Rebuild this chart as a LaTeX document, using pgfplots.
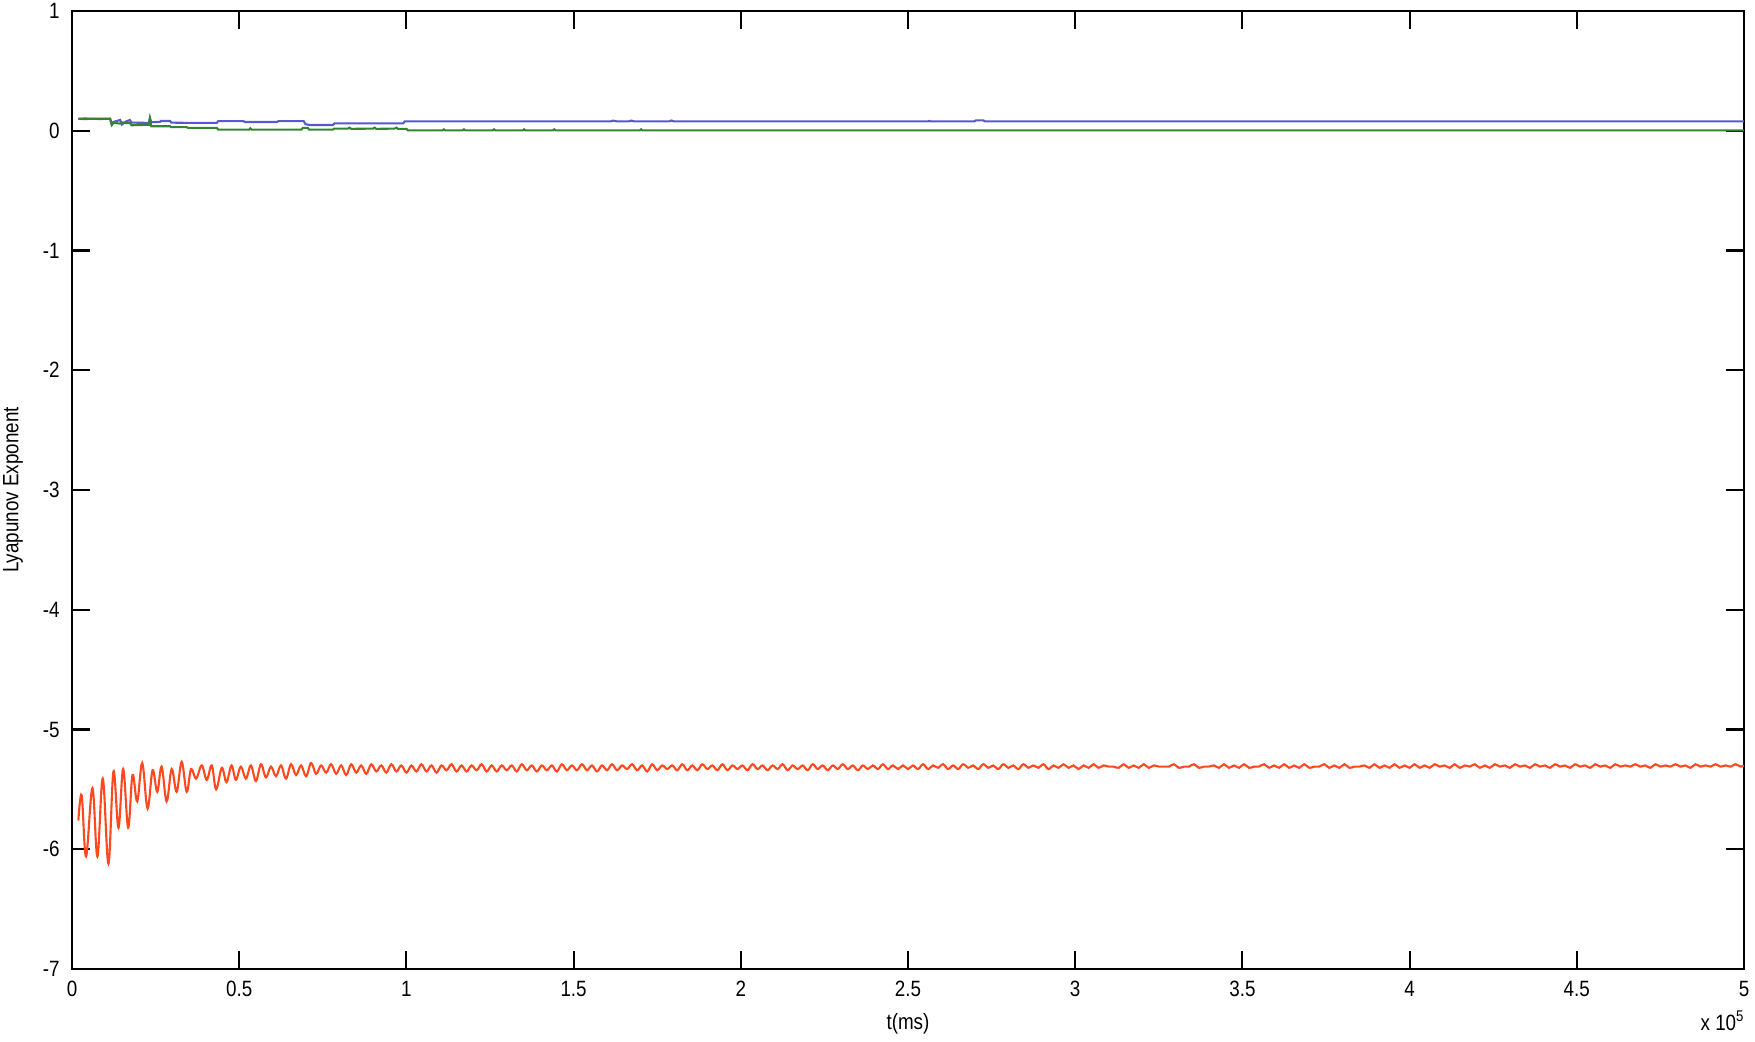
\documentclass[border=0pt]{standalone}
\usepackage{fontspec}
\setmainfont{Liberation Sans}[FakeStretch=0.85]
\usepackage{pgfplots}
\pgfplotsset{compat=1.18}

\definecolor{lyblue}{RGB}{88,88,208}
\definecolor{lygreen}{RGB}{52,132,52}
\definecolor{lyred}{RGB}{255,72,30}

\begin{document}
\begin{tikzpicture}
\begin{axis}[
    name=ax,
    at={(0,0)}, anchor=south west,
    scale only axis,
    width=16.72cm, height=9.58cm,
    xmin=0, xmax=500000,
    ymin=-7, ymax=1,
    scaled x ticks=false,
    xtick={0,50000,100000,150000,200000,250000,300000,350000,400000,450000,500000},
    xticklabels={0,0.5,1,1.5,2,2.5,3,3.5,4,4.5,5},
    ytick={-7,-6,-5,-4,-3,-2,-1,0,1},
    yticklabels={-7,-6,-5,-4,-3,-2,-1,0,1},
    tick align=inside,
    xtick pos=both, ytick pos=both,
    major tick length=0.18cm,
    tick style={black, line width=0.6pt},
    axis line style={black, line width=0.7pt},
    tick label style={font=\fontsize{6.3}{7}\selectfont},
    clip=true,
]
% largest exponent (blue)
\addplot[color=lyblue, line width=0.6pt] coordinates {
(1900,0.100) (4000,0.103) (6000,0.099) (8000,0.102) (11400,0.100) (11900,0.050)
(12400,0.074) (14400,0.090) (14900,0.052) (15900,0.074) (17300,0.090) (17800,0.068)
(23000,0.066) (23300,0.108) (23700,0.072) (26300,0.074) (26600,0.082) (29300,0.082)
(29700,0.068) (34300,0.066) (43300,0.066) (43700,0.080) (51300,0.080) (51700,0.073)
(61300,0.073) (61700,0.080) (69300,0.080) (69800,0.056) (71000,0.048) (78000,0.048)
(78500,0.062) (99000,0.062) (99500,0.078) (161000,0.078) (161800,0.085) (163000,0.078)
(166500,0.078) (167200,0.085) (168200,0.078) (178600,0.078) (179200,0.086) (180000,0.078)
(256000,0.078) (256400,0.082) (256800,0.078) (269800,0.078) (270300,0.087) (272500,0.087)
(273000,0.078) (500000,0.078)
};
% second exponent (green)
\addplot[color=lygreen, line width=0.6pt] coordinates {
(1900,0.100) (4000,0.097) (6000,0.101) (8000,0.098) (11400,0.100) (11900,0.050)
(12400,0.066) (14400,0.060) (14900,0.070) (15900,0.064) (17300,0.066) (17800,0.046)
(23000,0.050) (23300,0.100) (23700,0.038) (29300,0.038) (29700,0.030) (34300,0.030)
(34700,0.024) (43300,0.024) (43700,0.010) (53000,0.010) (53300,0.020) (53700,0.010)
(68600,0.010) (69000,0.024) (70500,0.024) (70900,0.010) (78000,0.010) (78400,0.018)
(82500,0.018) (83000,0.026) (83500,0.016) (90000,0.018) (90500,0.026) (91000,0.016)
(96500,0.018) (97000,0.026) (97500,0.016) (100000,0.016) (100500,0.003) (110800,0.003)
(111200,0.012) (111600,0.003) (116800,0.003) (117200,0.012) (117600,0.003) (125800,0.003)
(126200,0.012) (126600,0.003) (134800,0.003) (135200,0.012) (135600,0.003) (143800,0.003)
(144200,0.012) (144600,0.003) (169800,0.003) (170200,0.012) (170600,0.003) (500000,0.003)
};
% smallest exponent (red)
\addplot[color=lyred, line width=0.6pt, smooth, tension=0.6] coordinates {
(1900,-5.76) (2900,-5.55) (4200,-6.06) (6100,-5.49) (7600,-6.06) (9200,-5.41)
(10900,-6.12) (12400,-5.35) (13900,-5.82) (15300,-5.33) (16800,-5.82) (18100,-5.38)
(19500,-5.60) (21000,-5.28) (22600,-5.66) (24100,-5.34) (25500,-5.52) (26800,-5.31)
(28300,-5.60) (29800,-5.33) (31300,-5.52) (32800,-5.27) (34300,-5.52) (35600,-5.33)
(37100,-5.41) (38800,-5.30) (40300,-5.42) (41800,-5.30) (43100,-5.50) (44800,-5.32)
(46200,-5.44) (47700,-5.30) (49000,-5.42)
(50500,-5.31) (52000,-5.41) (53500,-5.30) (55000,-5.43) (56500,-5.29) (58000,-5.40)
(59500,-5.31) (61000,-5.39) (62500,-5.30) (64000,-5.41) (65500,-5.29) (67000,-5.38)
(68500,-5.30) (70000,-5.39)
(71500,-5.28) (73000,-5.37) (74500,-5.30) (76000,-5.36) (77500,-5.29) (79000,-5.37)
(80500,-5.30) (82000,-5.38) (83500,-5.29) (85000,-5.36) (86500,-5.30) (88000,-5.37)
(89500,-5.29) (91000,-5.35) (92500,-5.30) (94000,-5.36) (95500,-5.29) (97000,-5.35)
(98500,-5.30) (100000,-5.36)
(101500,-5.30) (103000,-5.35) (104500,-5.29) (106000,-5.35) (107500,-5.30) (109000,-5.36)
(110500,-5.30) (112000,-5.34) (113500,-5.29) (115000,-5.35) (116500,-5.30) (118000,-5.35)
(119500,-5.30) (121000,-5.34) (122500,-5.29) (124000,-5.35) (125500,-5.30) (127000,-5.35)
(128500,-5.30) (130000,-5.34) (131500,-5.30) (133000,-5.35) (134500,-5.29) (136000,-5.34)
(137500,-5.30) (139000,-5.35) (140500,-5.30) (142000,-5.34) (143500,-5.30) (145000,-5.35)
(146500,-5.29) (148000,-5.34)
(149500,-5.30) (151000,-5.34) (152500,-5.29) (154000,-5.34) (155500,-5.30) (157000,-5.35)
(158500,-5.30) (160000,-5.34) (161500,-5.29) (163000,-5.34) (164500,-5.30) (166000,-5.33)
(167500,-5.29) (169000,-5.34) (170500,-5.30) (172000,-5.35) (173500,-5.29) (175000,-5.34)
(176500,-5.30) (178000,-5.33) (179500,-5.30) (181000,-5.34) (182500,-5.29) (184000,-5.34)
(185500,-5.30) (187000,-5.34) (188500,-5.29) (190000,-5.33) (191500,-5.30) (193000,-5.34)
(194500,-5.29) (196000,-5.34) (197500,-5.30) (199000,-5.33) (200500,-5.30) (202000,-5.34)
(203500,-5.29) (205000,-5.33) (206500,-5.30) (208000,-5.34) (209500,-5.30) (211000,-5.33)
(212500,-5.29) (214000,-5.34) (215500,-5.30) (217000,-5.33) (218500,-5.30) (220000,-5.34)
(221500,-5.29) (223000,-5.33) (224500,-5.30) (226000,-5.34) (227500,-5.30) (229000,-5.33)
(230500,-5.29) (232000,-5.33) (233500,-5.30) (235000,-5.34) (236500,-5.30) (238000,-5.33)
(239500,-5.30) (241000,-5.33) (242500,-5.29) (244000,-5.33) (245500,-5.30) (247000,-5.33)
(248500,-5.30)
(250000,-5.33) (251500,-5.30) (253000,-5.33) (254500,-5.29) (256000,-5.33) (257500,-5.30)
(259000,-5.32) (260500,-5.29) (262000,-5.33) (263500,-5.30) (265000,-5.33) (266500,-5.29)
(268000,-5.32) (269500,-5.30) (271000,-5.33) (272500,-5.29) (274000,-5.32) (275500,-5.30)
(277000,-5.33) (278500,-5.29) (280000,-5.32) (281500,-5.30) (283000,-5.33) (284500,-5.29)
(286000,-5.32) (287500,-5.30) (289000,-5.32) (290500,-5.29) (292000,-5.33) (293500,-5.30)
(295000,-5.32) (296500,-5.29) (298000,-5.32) (299500,-5.30) (301000,-5.33) (302500,-5.30)
(304000,-5.32) (305500,-5.29) (307000,-5.32) (308500,-5.30) (310000,-5.31) (311500,-5.31)
(313000,-5.32) (314500,-5.29) (316000,-5.32) (317500,-5.30) (319000,-5.32) (320500,-5.29)
(322000,-5.32) (323500,-5.30) (325000,-5.31) (326500,-5.31) (328000,-5.31) (329500,-5.29)
(331000,-5.32) (332500,-5.31) (334000,-5.31) (335500,-5.29) (337000,-5.32) (338500,-5.31)
(340000,-5.31) (341500,-5.30) (343000,-5.32) (344500,-5.29) (346000,-5.32) (347500,-5.30)
(349000,-5.32) (350500,-5.29) (352000,-5.32) (353500,-5.31) (355000,-5.31) (356500,-5.29)
(358000,-5.32) (359500,-5.30) (361000,-5.32) (362500,-5.29) (364000,-5.32) (365500,-5.30)
(367000,-5.32) (368500,-5.29) (370000,-5.32) (371500,-5.31) (373000,-5.31) (374500,-5.29)
(376000,-5.32) (377500,-5.30) (379000,-5.32) (380500,-5.29) (382000,-5.32) (383500,-5.31)
(385000,-5.31) (386500,-5.30) (388000,-5.32) (389500,-5.29) (391000,-5.32) (392500,-5.30)
(394000,-5.32) (395500,-5.29) (397000,-5.32) (398500,-5.30) (400000,-5.32) (401500,-5.29)
(403000,-5.32) (404500,-5.30) (406000,-5.32) (407500,-5.29) (409000,-5.31) (410500,-5.30)
(412000,-5.32) (413500,-5.29) (415000,-5.32) (416500,-5.30) (418000,-5.31) (419500,-5.29)
(421000,-5.32) (422500,-5.30) (424000,-5.32) (425500,-5.29) (427000,-5.31) (428500,-5.30)
(430000,-5.32) (431500,-5.29) (433000,-5.31) (434500,-5.30) (436000,-5.32) (437500,-5.29)
(439000,-5.31) (440500,-5.30) (442000,-5.32) (443500,-5.29) (445000,-5.31) (446500,-5.30)
(448000,-5.32) (449500,-5.29) (451000,-5.31) (452500,-5.30) (454000,-5.32) (455500,-5.29)
(457000,-5.31) (458500,-5.30) (460000,-5.32) (461500,-5.29) (463000,-5.31) (464500,-5.30)
(466000,-5.31) (467500,-5.29) (469000,-5.31) (470500,-5.30) (472000,-5.32) (473500,-5.29)
(475000,-5.31) (476500,-5.30) (478000,-5.31) (479500,-5.29) (481000,-5.31) (482500,-5.30)
(484000,-5.32) (485500,-5.29) (487000,-5.31) (488500,-5.30) (490000,-5.31) (491500,-5.29)
(493000,-5.31) (494500,-5.30) (496000,-5.31) (497500,-5.29) (499000,-5.31) (500000,-5.30)
};
\end{axis}
% axis labels and the x scale factor, placed relative to the axis box
\node[font=\fontsize{6.3}{7}\selectfont, anchor=center]
    at ([yshift=-0.55cm]ax.south) {t(ms)};
\node[font=\fontsize{6.3}{7}\selectfont, anchor=center, rotate=90]
    at ([xshift=-0.59cm]ax.west) {Lyapunov Exponent};
\node[font=\fontsize{6.3}{7}\selectfont, anchor=east, inner sep=0pt]
    at ([yshift=-0.52cm,xshift=0.02cm]ax.south east) {x 10\textsuperscript{5}};
\pgfresetboundingbox
\path (-0.72cm,-0.72cm) rectangle (16.83cm,9.69cm);
\end{tikzpicture}
\end{document}
